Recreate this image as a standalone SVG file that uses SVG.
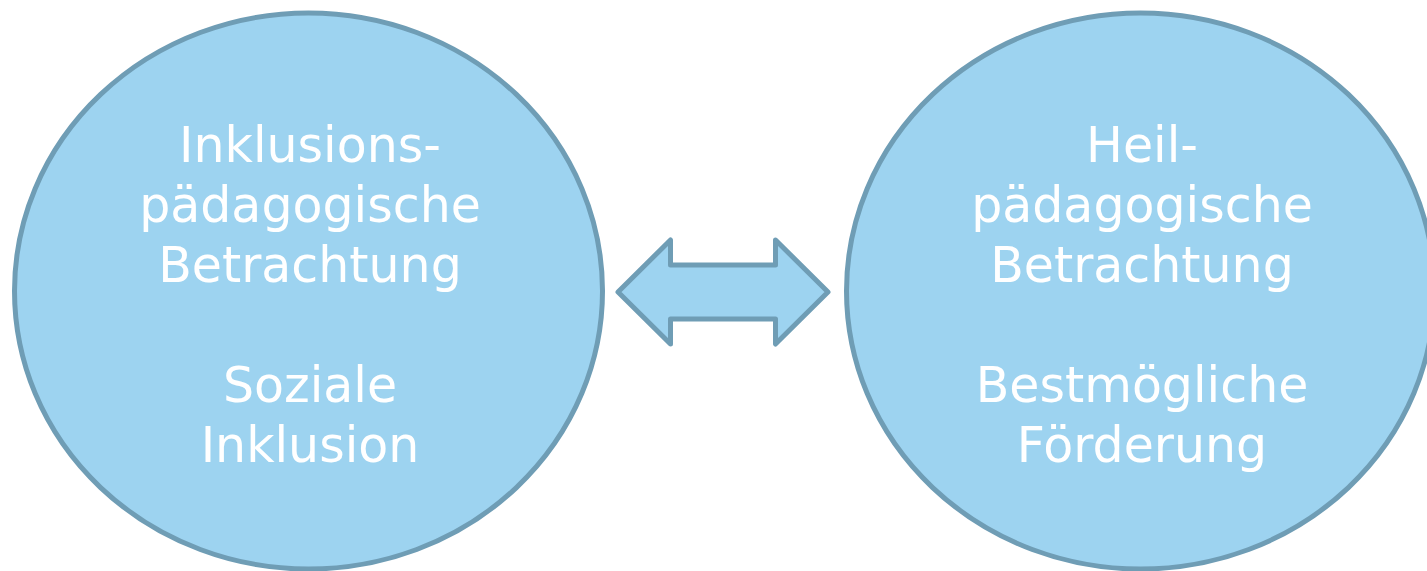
<svg xmlns="http://www.w3.org/2000/svg" width="1427" height="571" viewBox="0 0 1427 571">
<style>
.node{fill:#9dd3f0;stroke:#6f9db5;stroke-width:5}
.lbl{font-family:"DejaVu Sans",Verdana,sans-serif;font-size:49px;fill:#ffffff;text-anchor:middle}
</style>
<rect width="1427" height="571" fill="#ffffff"/>
<g id="node-inklusion">
<ellipse class="node" cx="308.5" cy="291" rx="294" ry="278"/>
<text class="lbl"><tspan x="310" y="162">Inklusions-</tspan><tspan x="310" y="222">pädagogische</tspan><tspan x="310" y="282">Betrachtung</tspan><tspan x="310" y="402">Soziale</tspan><tspan x="310" y="462">Inklusion</tspan></text>
</g>
<g id="node-heil">
<ellipse class="node" cx="1140.5" cy="291" rx="294" ry="278"/>
<text class="lbl"><tspan x="1142" y="162">Heil-</tspan><tspan x="1142" y="222">pädagogische</tspan><tspan x="1142" y="282">Betrachtung</tspan><tspan x="1142" y="402">Bestmögliche</tspan><tspan x="1142" y="462">Förderung</tspan></text>
</g>
<g id="connectors">
<path class="node" stroke-linejoin="round" d="M618,292 L670.5,240 L670.5,265 L775.5,265 L775.5,240 L828,292 L775.5,344 L775.5,319 L670.5,319 L670.5,344 Z"/>
</g>
</svg>
